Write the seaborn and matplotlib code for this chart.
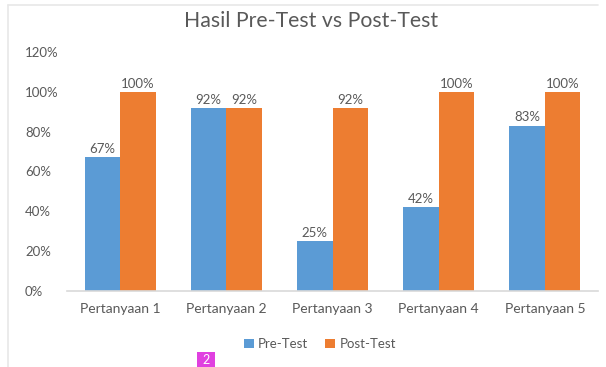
import matplotlib
matplotlib.use("Agg")
import matplotlib.pyplot as plt
from matplotlib.lines import Line2D
from matplotlib.patches import Rectangle, Patch
import pandas as pd
import seaborn as sns

# Data
categories = ["Pertanyaan 1", "Pertanyaan 2", "Pertanyaan 3", "Pertanyaan 4", "Pertanyaan 5"]
pre_test = [67, 92, 25, 42, 83]
post_test = [100, 92, 92, 100, 100]
series_names = ["Pre-Test", "Post-Test"]
y_ticks = [0, 20, 40, 60, 80, 100, 120]
y_tick_labels = ["0%", "20%", "40%", "60%", "80%", "100%", "120%"]
title = "Hasil Pre-Test vs Post-Test"

df = pd.DataFrame({
    "Pertanyaan": categories * 2,
    "Seri": [series_names[0]] * len(categories) + [series_names[1]] * len(categories),
    "Nilai": pre_test + post_test,
})

sns.set_theme(style="white")
plt.rcParams["font.family"] = ["Lato", "DejaVu Sans"]

W, H = 606, 367
fig = plt.figure(figsize=(W / 100, H / 100), dpi=100)
fig.patch.set_facecolor("white")

# Axes placed in pixel terms
x0, x1 = 67, 598
y0, y1 = 290.7, 51.9
ax = fig.add_axes([x0 / W, (H - y0) / H, (x1 - x0) / W, (y0 - y1) / H])

palette = {"Pre-Test": "#5B9BD5", "Post-Test": "#ED7D31"}
sns.barplot(data=df, x="Pertanyaan", y="Nilai", hue="Seri", palette=palette,
            width=0.67, saturation=1, linewidth=0, gap=0, ax=ax,
            errorbar=None, legend=False)

text_color = "#595959"
for cont in ax.containers:
    vals = [int(round(b.get_height())) for b in cont]
    ax.bar_label(cont, labels=[f"{v}%" for v in vals], padding=1.5,
                 fontsize=9.5, color=text_color)

ax.set_xlim(-0.5, 4.5)
ax.set_ylim(0, 120)
ax.set_yticks(y_ticks)
ax.set_yticklabels(y_tick_labels)
ax.set_xlabel("")
ax.set_ylabel("")
for s in ["top", "right", "left"]:
    ax.spines[s].set_visible(False)
ax.spines["bottom"].set_color("#d9d9d9")
ax.spines["bottom"].set_linewidth(1.2)
ax.tick_params(axis="both", length=0, colors=text_color)
ax.tick_params(axis="y", labelsize=9.5)
ax.tick_params(axis="x", pad=9, labelsize=10)
for lbl in ax.get_yticklabels():
    lbl.set_horizontalalignment("left")
ax.tick_params(axis="y", pad=(x0 - 25) * 72 / 100)

# Title
fig.text(311 / W, 1 - 21 / H, title, ha="center", va="center",
         fontsize=15.3, color=text_color)

# Legend
handles = [Patch(facecolor=palette[n], edgecolor="none", label=n) for n in series_names]
fig.legend(handles=handles, loc="center", bbox_to_anchor=(320 / W, 1 - 344 / H),
           ncol=2, frameon=False, fontsize=9.5, labelcolor=text_color,
           handlelength=0.75, handleheight=0.75, handletextpad=0.3,
           columnspacing=1.3)

# Chart area border (top and left edges)
fig.add_artist(Line2D([8 / W, 598 / W], [1 - 5 / H, 1 - 5 / H], color="#e8e8e8", lw=1.2))
fig.add_artist(Line2D([8 / W, 8 / W], [1 - 5 / H, 0], color="#e8e8e8", lw=1.2))

# Page marker
fig.add_artist(Rectangle((197 / W, 0), 18 / W, 15 / H, transform=fig.transFigure,
                         facecolor="#e040e0", edgecolor="none"))
fig.text(206 / W, 7.5 / H, "2", ha="center", va="center", color="white", fontsize=9)

fig.savefig("out.png", dpi=100, facecolor="white")
